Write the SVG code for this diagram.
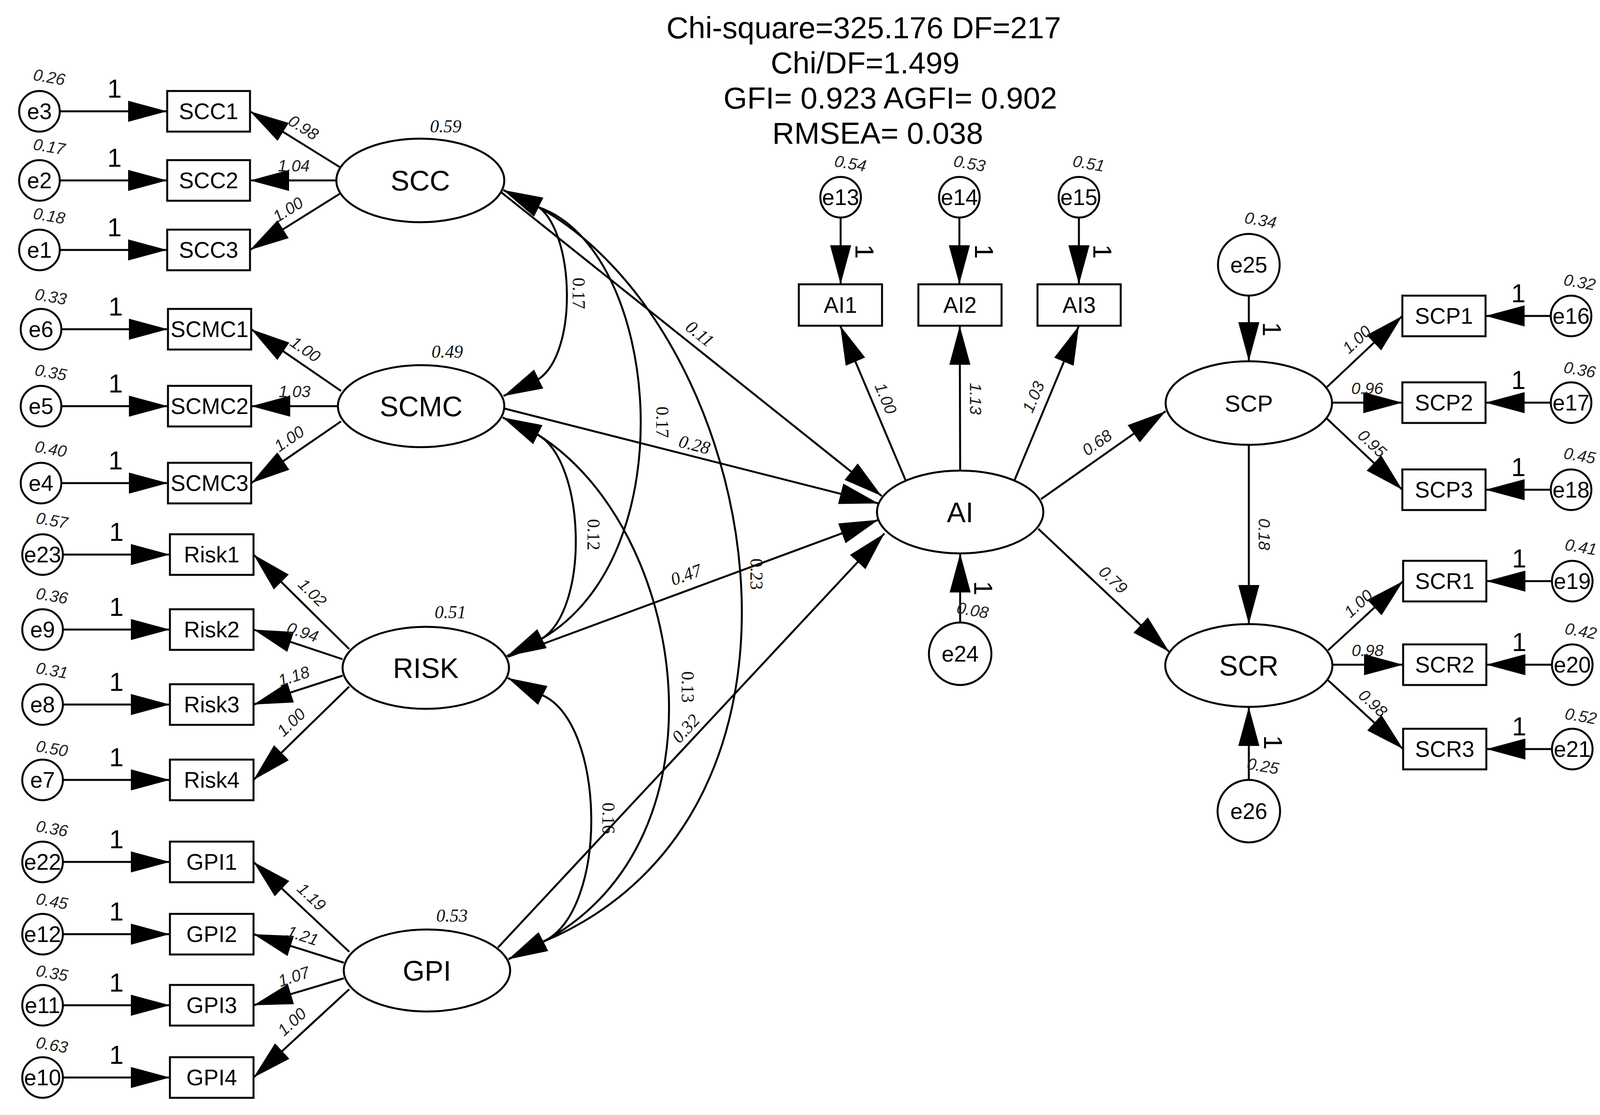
<svg xmlns="http://www.w3.org/2000/svg" width="4312" height="2855" viewBox="0 0 4312 2855">
<defs>
<style>
.s{fill:#fff;stroke:#000;stroke-width:5}
.l{fill:none;stroke:#000;stroke-width:5}
.a{marker-end:url(#ah)}
.d{marker-start:url(#ah);marker-end:url(#ah)}
text{font-family:'Liberation Sans',Arial,sans-serif;fill:#000}
.nm{font-size:57px;text-anchor:middle}
.lat{font-size:72px;text-anchor:middle}
.one{font-size:66px;text-anchor:middle}
.v{font-size:42px;font-style:italic;text-anchor:middle;fill:#222}
.sf{font-family:'Liberation Serif','Times New Roman',serif;font-size:46px;text-anchor:middle;fill:#111}
.it{font-style:italic}
.title{font-size:78px}
</style>
<marker id="ah" viewBox="0 0 100 54" refX="100" refY="27" markerWidth="100" markerHeight="54" markerUnits="userSpaceOnUse" orient="auto-start-reverse"><path d="M0,0 L100,27 L0,54 Z" fill="#000"/></marker>
</defs>
<rect width="4312" height="2855" fill="#fff"/>

<g id="fit-indices">
<text class="title" x="1706" y="98">Chi-square=325.176 DF=217</text>
<text class="title" x="1973" y="188">Chi/DF=1.499</text>
<text class="title" x="1852" y="278">GFI= 0.923 AGFI= 0.902</text>
<text class="title" x="1977" y="368">RMSEA= 0.038</text>
</g>

<g id="connectors">
<!-- error to indicator, left -->
<path class="l a" d="M153,285 L428,285"/>
<path class="l a" d="M153,462 L428,462"/>
<path class="l a" d="M153,640 L428,640"/>
<path class="l a" d="M157,843 L430,843"/>
<path class="l a" d="M157,1040 L430,1040"/>
<path class="l a" d="M157,1237 L430,1237"/>
<path class="l a" d="M161,1420 L435,1420"/>
<path class="l a" d="M161,1612 L435,1612"/>
<path class="l a" d="M161,1804 L435,1804"/>
<path class="l a" d="M161,1997 L435,1997"/>
<path class="l a" d="M161,2207 L435,2207"/>
<path class="l a" d="M161,2392 L435,2392"/>
<path class="l a" d="M161,2574 L435,2574"/>
<path class="l a" d="M161,2759 L435,2759"/>
<text class="one" x="293" y="250">1</text>
<text class="one" x="293" y="427">1</text>
<text class="one" x="293" y="605">1</text>
<text class="one" x="296" y="808">1</text>
<text class="one" x="296" y="1005">1</text>
<text class="one" x="296" y="1202">1</text>
<text class="one" x="298" y="1385">1</text>
<text class="one" x="298" y="1577">1</text>
<text class="one" x="298" y="1769">1</text>
<text class="one" x="298" y="1962">1</text>
<text class="one" x="298" y="2172">1</text>
<text class="one" x="298" y="2357">1</text>
<text class="one" x="298" y="2539">1</text>
<text class="one" x="298" y="2724">1</text>

<!-- loadings, left -->
<path class="l a" d="M870,428 L640,285"/>
<path class="l a" d="M861,462 L640,462"/>
<path class="l a" d="M870,496 L640,640"/>
<path class="l a" d="M873,1001 L643,843"/>
<path class="l a" d="M865,1040 L643,1040"/>
<path class="l a" d="M873,1079 L643,1237"/>
<path class="l a" d="M894,1662 L649,1420"/>
<path class="l a" d="M877,1688 L649,1612"/>
<path class="l a" d="M877,1730 L649,1804"/>
<path class="l a" d="M894,1758 L649,1997"/>
<path class="l a" d="M894,2437 L649,2207"/>
<path class="l a" d="M880,2465 L649,2392"/>
<path class="l a" d="M880,2505 L649,2574"/>
<path class="l a" d="M894,2533 L649,2759"/>
<text class="v" transform="translate(777,326) rotate(32)" y="15">0.98</text>
<text class="v" transform="translate(752,424)" y="15">1.04</text>
<text class="v" transform="translate(737,536) rotate(-32)" y="15">1.00</text>
<text class="v" transform="translate(782,894) rotate(34.5)" y="15">1.00</text>
<text class="v" transform="translate(754,1002)" y="15">1.03</text>
<text class="v" transform="translate(740,1123) rotate(-34.5)" y="15">1.00</text>
<text class="v" transform="translate(800,1517) rotate(44.6)" y="15">1.02</text>
<text class="v" transform="translate(775,1618) rotate(18)" y="15">0.94</text>
<text class="v" transform="translate(752,1731) rotate(-18)" y="15">1.18</text>
<text class="v" transform="translate(745,1849) rotate(-44)" y="15">1.00</text>
<text class="v" transform="translate(798,2296) rotate(43)" y="15">1.19</text>
<text class="v" transform="translate(775,2395) rotate(18)" y="15">1.21</text>
<text class="v" transform="translate(752,2500) rotate(-18)" y="15">1.07</text>
<text class="v" transform="translate(747,2616) rotate(-43)" y="15">1.00</text>

<!-- covariances -->
<path class="l d" d="M1289,487 L1380,531 C1470,600 1480,900 1380,970 L1289,1014"/>
<path class="l d" d="M1289,487 L1380,531 C1690,640 1760,1420 1386,1636 L1298,1680"/>
<path class="l d" d="M1289,487 L1380,531 C1950,850 2180,2080 1391,2411 L1302,2456"/>
<path class="l d" d="M1287,1069 L1375,1112 C1500,1180 1510,1560 1386,1636 L1298,1680"/>
<path class="l d" d="M1287,1069 L1375,1112 C1760,1350 1880,2150 1391,2411 L1302,2456"/>
<path class="l d" d="M1300,1736 L1388,1780 C1550,1850 1560,2330 1391,2411 L1302,2456"/>
<text class="sf" transform="translate(1482,751) rotate(90)" y="16">0.17</text>
<text class="sf" transform="translate(1696,1081) rotate(90)" y="16">0.17</text>
<text class="sf" transform="translate(1520,1369) rotate(90)" y="16">0.12</text>
<text class="sf" transform="translate(1937,1470) rotate(90)" y="16">0.23</text>
<text class="sf" transform="translate(1761,1759) rotate(90)" y="16">0.13</text>
<text class="sf" transform="translate(1558,2095) rotate(90)" y="16">0.16</text>

<!-- exogenous to AI -->
<path class="l a" d="M1284,493 L2257,1270"/>
<path class="l a" d="M1291,1046 L2249,1289"/>
<path class="l a" d="M1300,1682 L2249,1331"/>
<path class="l a" d="M1275,2426 L2264,1366"/>
<text class="sf it" transform="translate(1792,854) rotate(38.6)" y="16">0.11</text>
<text class="sf it" transform="translate(1778,1138) rotate(14)" y="16">0.28</text>
<text class="sf it" transform="translate(1756,1471) rotate(-20)" y="16">0.47</text>
<text class="sf it" transform="translate(1755,1865) rotate(-47)" y="16">0.32</text>

<!-- AI indicators -->
<path class="l a" d="M2152,557 L2152,728"/>
<path class="l a" d="M2456,557 L2456,728"/>
<path class="l a" d="M2762,557 L2762,728"/>
<text class="one" transform="translate(2213,644) rotate(90)" y="23">1</text>
<text class="one" transform="translate(2519,644) rotate(90)" y="23">1</text>
<text class="one" transform="translate(2822,644) rotate(90)" y="23">1</text>
<path class="l a" d="M2318,1229 L2151,834"/>
<path class="l a" d="M2458,1205 L2457,834"/>
<path class="l a" d="M2597,1230 L2762,834"/>
<text class="v" transform="translate(2268,1020) rotate(67)" y="15">1.00</text>
<text class="v" transform="translate(2498,1021) rotate(90)" y="15">1.13</text>
<text class="v" transform="translate(2645,1016) rotate(-67)" y="15">1.03</text>

<!-- disturbances -->
<path class="l a" d="M2458,1594 L2458,1417"/>
<text class="one" transform="translate(2517,1506) rotate(90)" y="23">1</text>
<path class="l a" d="M3197,757 L3197,925"/>
<text class="one" transform="translate(3256,843) rotate(90)" y="23">1</text>
<path class="l a" d="M3197,1997 L3197,1810"/>
<text class="one" transform="translate(3259,1901) rotate(90)" y="23">1</text>

<!-- structural -->
<path class="l a" d="M2665,1278 L2984,1053"/>
<path class="l a" d="M2658,1354 L2993,1669"/>
<path class="l a" d="M3197,1139 L3197,1598"/>
<text class="v" transform="translate(2808,1133) rotate(-35.2)" y="15">0.68</text>
<text class="v" transform="translate(2850,1484) rotate(43.2)" y="15">0.79</text>
<text class="v" transform="translate(3237,1368) rotate(90)" y="15">0.18</text>

<!-- loadings, right -->
<path class="l a" d="M3397,991 L3590,809"/>
<path class="l a" d="M3410,1031 L3590,1031"/>
<path class="l a" d="M3397,1072 L3590,1254"/>
<path class="l a" d="M3400,1665 L3592,1488"/>
<path class="l a" d="M3411,1702 L3592,1702"/>
<path class="l a" d="M3400,1742 L3592,1918"/>
<text class="v" transform="translate(3473,869) rotate(-43)" y="15">1.00</text>
<text class="v" transform="translate(3500,994)" y="15">0.96</text>
<text class="v" transform="translate(3513,1135) rotate(43)" y="15">0.95</text>
<text class="v" transform="translate(3477,1545) rotate(-42.7)" y="15">1.00</text>
<text class="v" transform="translate(3501,1665)" y="15">0.98</text>
<text class="v" transform="translate(3515,1800) rotate(42.5)" y="15">0.98</text>

<!-- error to indicator, right -->
<path class="l a" d="M3970,809 L3803,809"/>
<path class="l a" d="M3970,1031 L3803,1031"/>
<path class="l a" d="M3970,1254 L3803,1254"/>
<path class="l a" d="M3973,1488 L3805,1488"/>
<path class="l a" d="M3973,1702 L3805,1702"/>
<path class="l a" d="M3973,1918 L3805,1918"/>
<text class="one" x="3887" y="774">1</text>
<text class="one" x="3887" y="996">1</text>
<text class="one" x="3887" y="1219">1</text>
<text class="one" x="3889" y="1453">1</text>
<text class="one" x="3889" y="1667">1</text>
<text class="one" x="3889" y="1883">1</text>
</g>

<!-- left error terms -->
<g id="e3"><circle class="s" cx="101" cy="285" r="52"/><text class="nm" x="101" y="305">e3</text><text class="v" transform="translate(126,197) rotate(10)" y="15">0.26</text></g>
<g id="e2"><circle class="s" cx="101" cy="462" r="52"/><text class="nm" x="101" y="482">e2</text><text class="v" transform="translate(126,375) rotate(10)" y="15">0.17</text></g>
<g id="e1"><circle class="s" cx="101" cy="640" r="52"/><text class="nm" x="101" y="660">e1</text><text class="v" transform="translate(126,552) rotate(10)" y="15">0.18</text></g>
<g id="e6"><circle class="s" cx="105" cy="843" r="52"/><text class="nm" x="105" y="863">e6</text><text class="v" transform="translate(130,759) rotate(10)" y="15">0.33</text></g>
<g id="e5"><circle class="s" cx="105" cy="1040" r="52"/><text class="nm" x="105" y="1060">e5</text><text class="v" transform="translate(130,953) rotate(10)" y="15">0.35</text></g>
<g id="e4"><circle class="s" cx="105" cy="1237" r="52"/><text class="nm" x="105" y="1257">e4</text><text class="v" transform="translate(130,1149) rotate(10)" y="15">0.40</text></g>
<g id="e23"><circle class="s" cx="109" cy="1420" r="52"/><text class="nm" x="109" y="1440">e23</text><text class="v" transform="translate(133,1332) rotate(10)" y="15">0.57</text></g>
<g id="e9"><circle class="s" cx="109" cy="1612" r="52"/><text class="nm" x="109" y="1632">e9</text><text class="v" transform="translate(133,1525) rotate(10)" y="15">0.36</text></g>
<g id="e8"><circle class="s" cx="109" cy="1804" r="52"/><text class="nm" x="109" y="1824">e8</text><text class="v" transform="translate(133,1716) rotate(10)" y="15">0.31</text></g>
<g id="e7"><circle class="s" cx="109" cy="1997" r="52"/><text class="nm" x="109" y="2017">e7</text><text class="v" transform="translate(133,1916) rotate(10)" y="15">0.50</text></g>
<g id="e22"><circle class="s" cx="109" cy="2207" r="52"/><text class="nm" x="109" y="2227">e22</text><text class="v" transform="translate(133,2121) rotate(10)" y="15">0.36</text></g>
<g id="e12"><circle class="s" cx="109" cy="2392" r="52"/><text class="nm" x="109" y="2412">e12</text><text class="v" transform="translate(133,2307) rotate(10)" y="15">0.45</text></g>
<g id="e11"><circle class="s" cx="109" cy="2574" r="52"/><text class="nm" x="109" y="2594">e11</text><text class="v" transform="translate(133,2491) rotate(10)" y="15">0.35</text></g>
<g id="e10"><circle class="s" cx="109" cy="2759" r="52"/><text class="nm" x="109" y="2779">e10</text><text class="v" transform="translate(133,2675) rotate(10)" y="15">0.63</text></g>

<!-- left indicators -->
<g id="SCC1"><rect class="s" x="428" y="233" width="212" height="104"/><text class="nm" x="534" y="305">SCC1</text></g>
<g id="SCC2"><rect class="s" x="428" y="410" width="212" height="104"/><text class="nm" x="534" y="482">SCC2</text></g>
<g id="SCC3"><rect class="s" x="428" y="588" width="212" height="104"/><text class="nm" x="534" y="660">SCC3</text></g>
<g id="SCMC1"><rect class="s" x="430" y="791" width="213" height="104"/><text class="nm" x="536.5" y="863">SCMC1</text></g>
<g id="SCMC2"><rect class="s" x="430" y="988" width="213" height="104"/><text class="nm" x="536.5" y="1060">SCMC2</text></g>
<g id="SCMC3"><rect class="s" x="430" y="1185" width="213" height="104"/><text class="nm" x="536.5" y="1257">SCMC3</text></g>
<g id="Risk1"><rect class="s" x="435" y="1368" width="214" height="104"/><text class="nm" x="542" y="1440">Risk1</text></g>
<g id="Risk2"><rect class="s" x="435" y="1560" width="214" height="104"/><text class="nm" x="542" y="1632">Risk2</text></g>
<g id="Risk3"><rect class="s" x="435" y="1752" width="214" height="104"/><text class="nm" x="542" y="1824">Risk3</text></g>
<g id="Risk4"><rect class="s" x="435" y="1945" width="214" height="104"/><text class="nm" x="542" y="2017">Risk4</text></g>
<g id="GPI1"><rect class="s" x="435" y="2155" width="214" height="104"/><text class="nm" x="542" y="2227">GPI1</text></g>
<g id="GPI2"><rect class="s" x="435" y="2340" width="214" height="104"/><text class="nm" x="542" y="2412">GPI2</text></g>
<g id="GPI3"><rect class="s" x="435" y="2522" width="214" height="104"/><text class="nm" x="542" y="2594">GPI3</text></g>
<g id="GPI4"><rect class="s" x="435" y="2707" width="214" height="104"/><text class="nm" x="542" y="2779">GPI4</text></g>

<!-- exogenous latents -->
<g id="SCC"><ellipse class="s" cx="1076" cy="462" rx="215" ry="107"/><text class="lat" x="1076" y="488">SCC</text><text class="sf it" x="1141" y="339">0.59</text></g>
<g id="SCMC"><ellipse class="s" cx="1078" cy="1040" rx="213" ry="105"/><text class="lat" x="1078" y="1066">SCMC</text><text class="sf it" x="1145" y="916">0.49</text></g>
<g id="RISK"><ellipse class="s" cx="1090" cy="1710" rx="213" ry="105"/><text class="lat" x="1090" y="1736">RISK</text><text class="sf it" x="1153" y="1583">0.51</text></g>
<g id="GPI"><ellipse class="s" cx="1093" cy="2485" rx="213" ry="105"/><text class="lat" x="1093" y="2511">GPI</text><text class="sf it" x="1157" y="2360">0.53</text></g>

<!-- AI block -->
<g id="e13"><circle class="s" cx="2152" cy="505" r="52"/><text class="nm" x="2152" y="525">e13</text><text class="v" transform="translate(2177,418) rotate(10)" y="15">0.54</text></g>
<g id="e14"><circle class="s" cx="2456" cy="505" r="52"/><text class="nm" x="2456" y="525">e14</text><text class="v" transform="translate(2482,418) rotate(10)" y="15">0.53</text></g>
<g id="e15"><circle class="s" cx="2762" cy="505" r="52"/><text class="nm" x="2762" y="525">e15</text><text class="v" transform="translate(2787,418) rotate(10)" y="15">0.51</text></g>
<g id="AI1"><rect class="s" x="2045" y="728" width="213" height="106"/><text class="nm" x="2151.5" y="801">AI1</text></g>
<g id="AI2"><rect class="s" x="2351" y="728" width="213" height="106"/><text class="nm" x="2457.5" y="801">AI2</text></g>
<g id="AI3"><rect class="s" x="2656" y="728" width="213" height="106"/><text class="nm" x="2762.5" y="801">AI3</text></g>
<g id="AI"><ellipse class="s" cx="2458" cy="1311" rx="213" ry="106"/><text class="lat" x="2458" y="1337">AI</text></g>
<g id="e24"><circle class="s" cx="2458" cy="1674" r="80"/><text class="nm" x="2458" y="1694">e24</text><text class="v" transform="translate(2490,1562) rotate(10)" y="15">0.08</text></g>

<!-- outcome latents -->
<g id="e25"><circle class="s" cx="3197" cy="678" r="79"/><text class="nm" x="3197" y="698">e25</text><text class="v" transform="translate(3227,563) rotate(10)" y="15">0.34</text></g>
<g id="SCP"><ellipse class="s" cx="3197" cy="1032" rx="213" ry="107"/><text class="lat" x="3197" y="1054" style="font-size:60px">SCP</text></g>
<g id="SCR"><ellipse class="s" cx="3197" cy="1704" rx="214" ry="106"/><text class="lat" x="3197" y="1730">SCR</text></g>
<g id="e26"><circle class="s" cx="3197" cy="2077" r="80"/><text class="nm" x="3197" y="2097">e26</text><text class="v" transform="translate(3233,1961) rotate(10)" y="15">0.25</text></g>

<!-- right indicators -->
<g id="SCP1"><rect class="s" x="3590" y="757" width="213" height="104"/><text class="nm" x="3696.5" y="829">SCP1</text></g>
<g id="SCP2"><rect class="s" x="3590" y="979" width="213" height="104"/><text class="nm" x="3696.5" y="1051">SCP2</text></g>
<g id="SCP3"><rect class="s" x="3590" y="1202" width="213" height="104"/><text class="nm" x="3696.5" y="1274">SCP3</text></g>
<g id="SCR1"><rect class="s" x="3592" y="1436" width="213" height="104"/><text class="nm" x="3698.5" y="1508">SCR1</text></g>
<g id="SCR2"><rect class="s" x="3592" y="1650" width="213" height="104"/><text class="nm" x="3698.5" y="1722">SCR2</text></g>
<g id="SCR3"><rect class="s" x="3592" y="1866" width="213" height="104"/><text class="nm" x="3698.5" y="1938">SCR3</text></g>

<!-- right error terms -->
<g id="e16"><circle class="s" cx="4022" cy="809" r="52"/><text class="nm" x="4022" y="829">e16</text><text class="v" transform="translate(4044,722) rotate(10)" y="15">0.32</text></g>
<g id="e17"><circle class="s" cx="4022" cy="1031" r="52"/><text class="nm" x="4022" y="1051">e17</text><text class="v" transform="translate(4044,946) rotate(10)" y="15">0.36</text></g>
<g id="e18"><circle class="s" cx="4022" cy="1254" r="52"/><text class="nm" x="4022" y="1274">e18</text><text class="v" transform="translate(4044,1166) rotate(10)" y="15">0.45</text></g>
<g id="e19"><circle class="s" cx="4025" cy="1488" r="52"/><text class="nm" x="4025" y="1508">e19</text><text class="v" transform="translate(4047,1400) rotate(10)" y="15">0.41</text></g>
<g id="e20"><circle class="s" cx="4025" cy="1702" r="52"/><text class="nm" x="4025" y="1722">e20</text><text class="v" transform="translate(4047,1615) rotate(10)" y="15">0.42</text></g>
<g id="e21"><circle class="s" cx="4025" cy="1918" r="52"/><text class="nm" x="4025" y="1938">e21</text><text class="v" transform="translate(4047,1833) rotate(10)" y="15">0.52</text></g>
</svg>
